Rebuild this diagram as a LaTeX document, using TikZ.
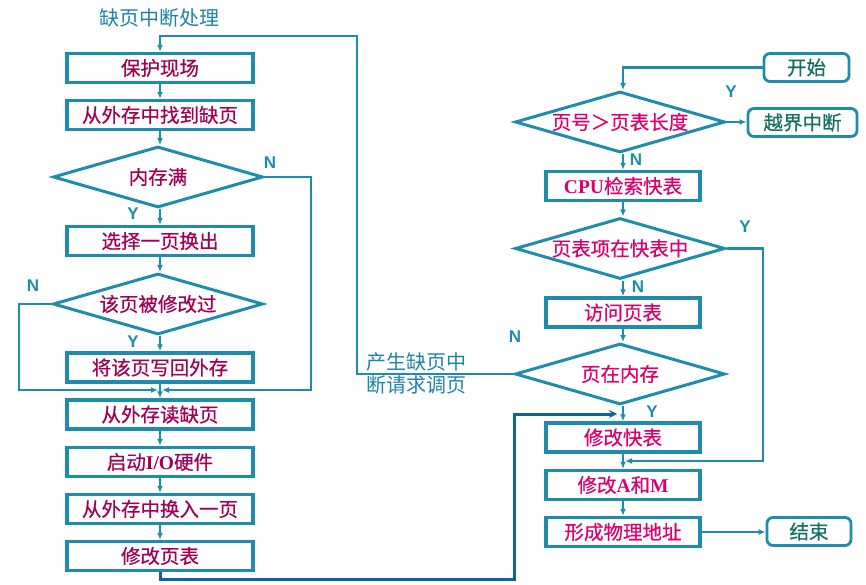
\documentclass[tikz,border=0pt]{standalone}
\usepackage{fontspec}
\usetikzlibrary{shapes.geometric,arrows.meta}
\newfontfamily\cjk{Noto Sans CJK SC}
\newfontfamily\cjkb{Noto Sans CJK SC}[FakeBold=0.6]
\newfontfamily\lser{Liberation Serif}
\newfontfamily\lsans{Liberation Sans}
\definecolor{ln}{RGB}{30,140,170}
\definecolor{dk}{RGB}{15,100,150}
\definecolor{ltx}{RGB}{160,0,85}
\definecolor{rtx}{RGB}{220,0,110}
\definecolor{gtx}{RGB}{20,110,100}
\definecolor{ttx}{RGB}{30,130,170}
\begin{document}
\begin{tikzpicture}[x=1pt,y=-1pt,
 box/.style={draw=ln,line width=3.4pt,minimum height=29pt,inner sep=0pt,font=\cjkb\fontsize{19.5}{20}\selectfont},
 lbox/.style={box,minimum width=186pt,text=ltx},
 rbox/.style={box,minimum width=154pt,text=rtx},
 dia/.style={diamond,draw=ln,line width=3pt,aspect=3.4,minimum width=210pt,minimum height=61pt,inner sep=0pt,font=\cjkb\fontsize{19.5}{20}\selectfont},
 rnd/.style={draw=ln,line width=2.8pt,rounded corners=6pt,minimum height=28pt,inner sep=0pt,text=gtx,font=\cjkb\fontsize{19.5}{20}\selectfont},
 con/.style={draw=ln,line width=2.6pt},
 arr/.style={con,-{Latex[length=7pt,width=6pt]}},
 dkarr/.style={draw=dk,line width=3pt,-{Stealth[length=8pt,width=8pt,inset=3pt]}},
 yn/.style={text=ln,font=\lsans\bfseries\fontsize{17}{18}\selectfont,inner sep=0pt},
 lab/.style={text=ttx,font=\cjk\fontsize{20}{23}\selectfont,inner sep=0pt}
]
\path[use as bounding box] (0,0) rectangle (866,585);
% title
\node[lab,anchor=west] (title) at (99,18) {缺页中断处理};
% left column
\node[lbox] (b1) at (160,68) {保护现场};
\node[lbox] (b2) at (160,115) {从外存中找到缺页};
\node[dia,text=ltx] (d1) at (158,177) {内存满};
\node[lbox] (b3) at (160,241) {选择一页换出};
\node[dia,text=ltx] (d2) at (158,304) {该页被修改过};
\node[lbox] (b4) at (160,367.5) {将该页写回外存};
\coordinate (m) at (160,390);
\node[lbox] (b5) at (160,414.5) {从外存读缺页};
\node[lbox] (b6) at (160,462) {启动{\lser\bfseries I/O}硬件};
\node[lbox] (b7) at (160,509) {从外存中换入一页};
\node[lbox] (b8) at (160,556) {修改页表};
% right column
\node[rnd,minimum width=85pt] (s) at (806.5,67.5) {开始};
\node[rnd,minimum width=109pt] (e1) at (802.5,122.5) {越界中断};
\node[dia,text=rtx] (r1) at (620,122) {页号＞页表长度};
\node[rbox] (c1) at (623,186) {{\lser\bfseries CPU}检索快表};
\node[dia,text=rtx] (r2) at (620,248.5) {页表项在快表中};
\node[rbox] (c2) at (623,312.5) {访问页表};
\node[dia,text=rtx] (r3) at (620,374) {页在内存};
\node[rbox] (c3) at (623,437.5) {修改快表};
\node[rbox] (c4) at (623,485) {修改{\lser\bfseries A}和{\lser\bfseries M}};
\node[rbox] (c5) at (623,532) {形成物理地址};
\node[rnd,minimum width=84pt] (en) at (809,531.5) {结束};
% left connectors
\draw[arr] (b1.south) -- (b2.north);
\draw[arr] (b2.south) -- (b2.south |- d1.north);
\draw[arr] (b2.south |- d1.south) -- (b3.north);
\draw[arr] (b3.south) -- (b3.south |- d2.north);
\draw[arr] (b3.south |- d2.south) -- (b4.north);
\coordinate (mr) at (162,390);
\coordinate (ml) at (158,390);
\draw[arr] (d1.east) -- (311,177) -- (311,390) -- (mr);
\draw[arr] (d2.west) -- (19,304) -- (19,390) -- (ml);
\draw[con] (b4.south) -- (m);
\draw[arr] (m) -- (b5.north);
\draw[arr] (b5.south) -- (b6.north);
\draw[arr] (b6.south) -- (b7.north);
\draw[arr] (b7.south) -- (b8.north);
% right connectors
\draw[arr] (s.west) -- (623,67.5) -- (r1.north -| c1.north);
\draw[arr] (r1.east) -- (r1.east -| e1.west);
\draw[arr] (c1.north |- r1.south) -- (c1.north);
\draw[arr] (c1.south) -- (c1.south |- r2.north);
\draw[arr] (c2.north |- r2.south) -- (c2.north);
\draw[arr] (c2.south) -- (c2.south |- r3.north);
\draw[arr] (c3.north |- r3.south) -- (c3.north);
\draw[arr] (c3.south) -- (c4.north);
\draw[arr] (c4.south) -- (c5.north);
\draw[arr] (c5.east) -- (c5.east -| en.west);
\coordinate (j1) at (625,461);
\draw[arr] (r2.east) -- (763,248.5) -- (763,461) -- (j1);
\draw[arr] (r3.west) -- (357,374) -- (357,36) -- (160,36) -- (b1.north);
\coordinate (j2) at (617,414);
\draw[dkarr] (b8.south) -- (160,579) -- (514,579) -- (514,414) -- (j2);
% labels
\node[yn] (n1) at (270,163) {N};
\node[yn] (y1) at (133,214) {Y};
\node[yn] (n2) at (33,286) {N};
\node[yn] (y2) at (133,342) {Y};
\node[yn] (y3) at (731,92) {Y};
\node[yn] (n3) at (636,160) {N};
\node[yn] (y4) at (745,227) {Y};
\node[yn] (n4) at (638,287) {N};
\node[yn] (n5) at (515,337) {N};
\node[yn] (y5) at (652,412) {Y};
\node[lab,anchor=west,align=left] (req) at (366,373.5) {产生缺页中\\断请求调页};
\end{tikzpicture}
\end{document}
